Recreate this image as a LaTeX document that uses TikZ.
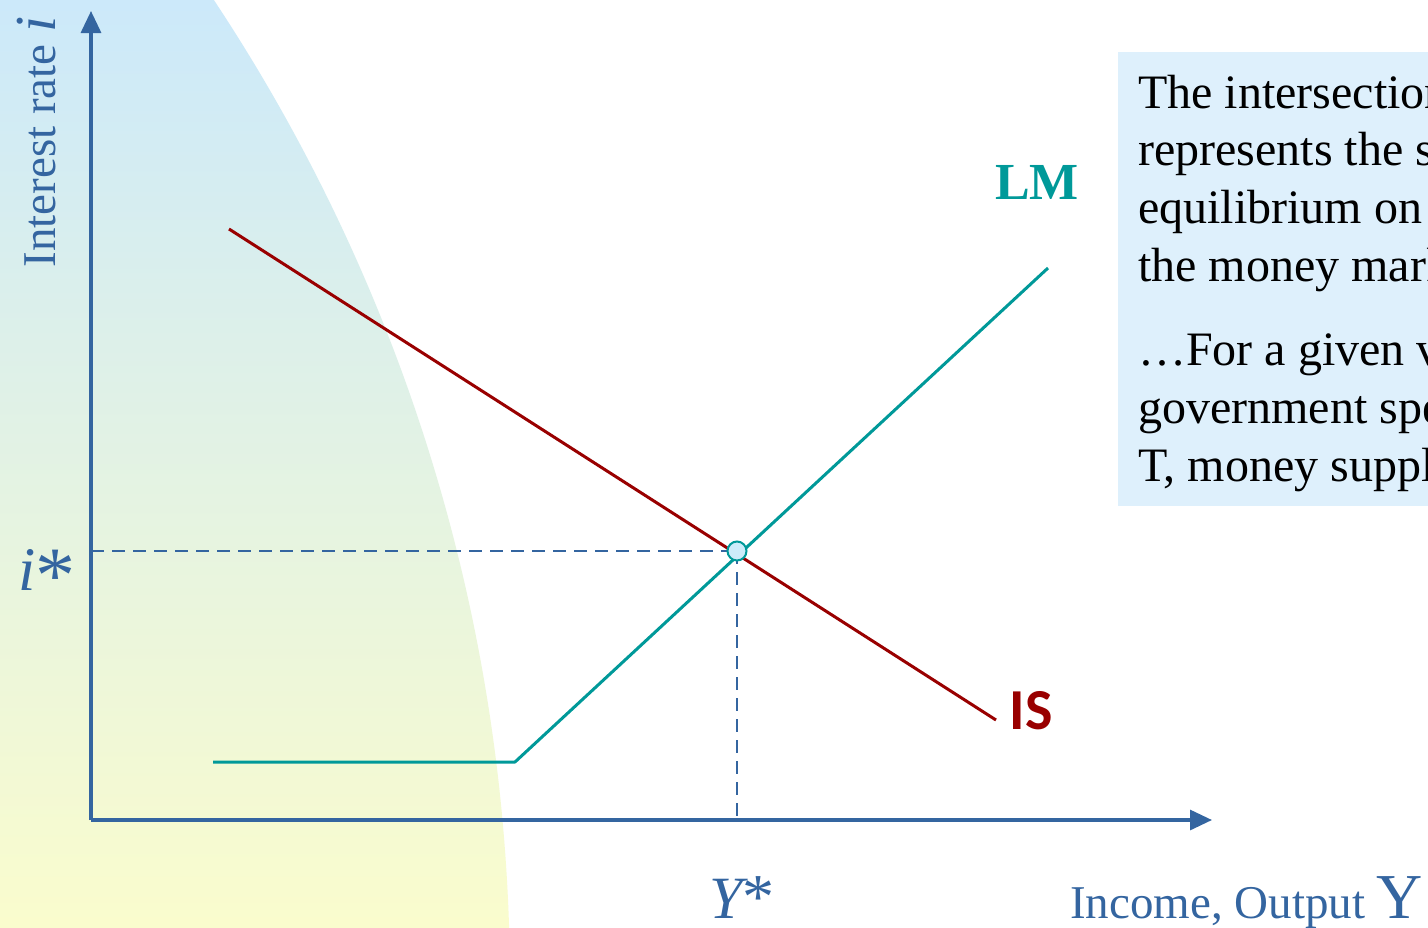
\documentclass[tikz,border=0pt]{standalone}
\usepackage{fontspec}
\setmainfont{Liberation Serif}
\newfontfamily\carlitofont{Carlito}
\usetikzlibrary{arrows.meta}
\definecolor{axisblue}{RGB}{52,101,160}
\definecolor{lmteal}{RGB}{0,153,153}
\definecolor{isred}{RGB}{153,0,0}
\definecolor{bgtop}{RGB}{204,233,250}
\definecolor{bgmid}{RGB}{232,244,226}
\definecolor{bgbot}{RGB}{250,252,205}
\definecolor{boxblue}{RGB}{222,240,252}
\definecolor{eqfill}{RGB}{204,236,250}
\tikzset{
  axisline/.style={draw=axisblue, line width=3.2pt, -{Triangle[length=22pt,width=20pt]}},
  guide/.style={draw=axisblue, line width=2pt, dash pattern=on 13pt off 8pt},
  lmcurve/.style={draw=lmteal, line width=3pt},
  iscurve/.style={draw=isred, line width=3pt},
  axlabel/.style={text=axisblue, inner sep=0pt},
  boxtext/.style={anchor=base west, inner sep=0pt, font=\fontsize{48}{58}\selectfont},
}
\begin{document}
\begin{tikzpicture}[x=1pt,y=-1pt]
\useasboundingbox (0,0) rectangle (1428,927);
\clip (0,0) rectangle (1428,927);
\fill[white] (0,0) rectangle (1428,927);
% background shaded region
\begin{scope}
  \clip (-1275,985) circle [radius=1785];
  \shade[top color=bgtop, middle color=bgmid, bottom color=bgbot] (0,0) rectangle (600,927);
\end{scope}
% text box
\fill[boxblue] (1118,52) rectangle (1440,506);
\node[boxtext] (t1) at (1138,108) {The intersection of IS and LM};
\node[boxtext] (t2) at (1138,165) {represents the simultaneous};
\node[boxtext] (t3) at (1138,223) {equilibrium on the goods and};
\node[boxtext] (t4) at (1138,281) {the money market.};
\node[boxtext] (t5) at (1138,365) {\ldots For a given value of};
\node[boxtext] (t6) at (1138,423) {government spending G, taxes};
\node[boxtext] (t7) at (1138,481) {T, money supply M and prices P};
% coordinates
\coordinate (O) at (91,820);
\coordinate (ytip) at (91,11);
\coordinate (xtip) at (1212,820);
\coordinate (E) at (737,551);
\coordinate (iaxis) at (91,551);
\coordinate (yaxis) at (737,820);
\coordinate (IS1) at (229,229);
\coordinate (IS2) at (996,720);
\coordinate (LM0) at (213,762);
\coordinate (LM1) at (515,762);
\coordinate (LM2) at (1048,268);
% guides
\draw[guide] (iaxis) -- (E);
\draw[guide] (E) -- (yaxis);
% axes
\draw[axisline] (O) -- (ytip);
\draw[axisline] (O) -- (xtip);
% curves
\draw[iscurve] (IS1) -- (IS2);
\draw[lmcurve, line join=round] (LM0) -- (LM1) -- (LM2);
\node[circle, draw=lmteal, fill=eqfill, line width=2pt, minimum size=19pt, inner sep=0pt] (eq) at (E) {};
% labels
\node[text=lmteal, inner sep=0pt, font=\fontsize{52}{60}\selectfont\bfseries] (lmlab) at (1037,182) {LM};
\node[text=isred, inner sep=0pt, font=\fontsize{58}{64}\selectfont\carlitofont\bfseries] (islab) at (1031,711) {IS};
\node[axlabel, rotate=90, anchor=base, font=\fontsize{47}{54}\selectfont] (ylab) at (55,142) {Interest rate {\fontsize{58}{60}\selectfont\itshape i}};
\node[axlabel, anchor=base, font=\fontsize{62}{64}\selectfont] (istar) at (47,590) {\itshape i\/\upshape\raisebox{-12pt}{\fontsize{80}{80}\selectfont *}};
\node[axlabel, anchor=base, font=\fontsize{60}{64}\selectfont] (ystar) at (742,918) {\itshape Y\upshape{\fontsize{64}{64}\selectfont *}};
\node[axlabel, anchor=base west, font=\fontsize{47}{54}\selectfont] (xlab) at (1070,918) {Income, Output {\fontsize{64}{64}\selectfont Y}};
\end{tikzpicture}
\end{document}
